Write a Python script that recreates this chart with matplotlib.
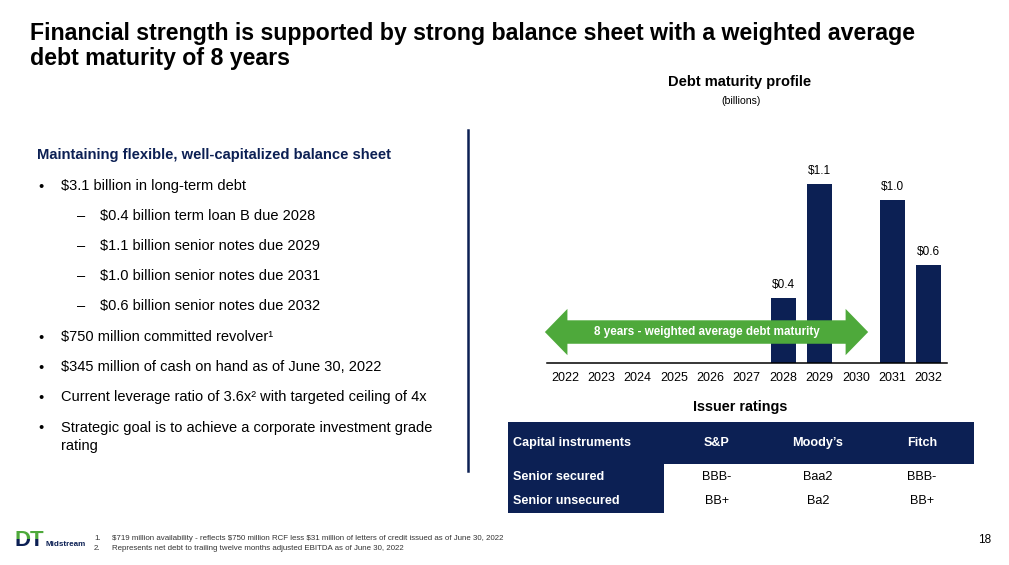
"""Debt maturity profile slide: bullets, bar chart with weighted-maturity arrow, ratings table."""

import matplotlib.pyplot as plt
from matplotlib.patches import Polygon, Rectangle

plt.rcParams["font.family"] = ["Liberation Sans", "DejaVu Sans"]
plt.rcParams["text.parse_math"] = False

NAVY = "#0C2054"
GREEN = "#4EA93B"
W, H = 1009, 565

# data
YEARS = list(range(2022, 2033))
MATURITY_YEARS = [2028, 2029, 2031, 2032]
MATURITY_VALUES = [0.4, 1.1, 1.0, 0.6]
MATURITY_LABELS = ["$0.4", "$1.1", "$1.0", "$0.6"]
ARROW_TEXT = "8 years - weighted average debt maturity"

TITLE = ("Financial strength is supported by strong balance sheet with a weighted average\n"
         "debt maturity of 8 years")
HEADING = "Maintaining flexible, well-capitalized balance sheet"
BULLETS = [
    (0, "$3.1 billion in long-term debt"),
    (1, "$0.4 billion term loan B due 2028"),
    (1, "$1.1 billion senior notes due 2029"),
    (1, "$1.0 billion senior notes due 2031"),
    (1, "$0.6 billion senior notes due 2032"),
    (0, "$750 million committed revolver\u00b9"),
    (0, "$345 million of cash on hand as of June 30, 2022"),
    (0, "Current leverage ratio of 3.6x\u00b2 with targeted ceiling of 4x"),
    (0, "Strategic goal is to achieve a corporate investment grade\nrating"),
]

RATING_COLUMNS = ["Capital instruments", "S&P", "Moody\u2019s", "Fitch"]
RATING_ROWS = ["Senior secured", "Senior unsecured"]
RATINGS = [["BBB-", "Baa2", "BBB-"], ["BB+", "Ba2", "BB+"]]

FOOTNOTES = [
    "$719 million availability - reflects $750 million RCF less $31 million of letters of credit issued as of June 30, 2022",
    "Represents net debt to trailing twelve months adjusted EBITDA as of June 30, 2022",
]


def fx(x):
    return x / W


def fy(y):
    return 1 - y / H


def ftext(x, y, s, **kw):
    kw.setdefault("va", "center")
    return fig.text(fx(x), fy(y), s, **kw)


fig = plt.figure(figsize=(W / 100, H / 100), dpi=100)

# title
ftext(30, 46, TITLE, fontsize=16.7, fontweight="bold", color="black", linespacing=1.12)

# left column
ftext(37, 155, HEADING, fontsize=10.6, fontweight="bold", color=NAVY)
y = 186
for level, text in BULLETS:
    if level == 0:
        ftext(38, y + 1, "\u2022", fontsize=10.5)
        if "\n" in text:
            ftext(61, y - 6, text, fontsize=10.5, va="top", linespacing=1.38)
        else:
            ftext(61, y, text, fontsize=10.5)
    else:
        ftext(77, y, "\u2013", fontsize=10.5)
        ftext(100, y, text, fontsize=10.5)
    y += 30.1

fig.add_artist(plt.Line2D([fx(468), fx(468)], [fy(130), fy(471)], color=NAVY, lw=1.8))

# chart
ftext(740, 82, "Debt maturity profile", fontsize=10.5, fontweight="bold", ha="center")
ftext(741, 101, "(billions)", fontsize=7.6, ha="center")

ax_l, ax_r, ax_b, ax_t = 546.7, 946.7, 363, 167.4
ax = fig.add_axes([fx(ax_l), fy(ax_b), fx(ax_r - ax_l), (ax_b - ax_t) / H])
ax.bar(MATURITY_YEARS, MATURITY_VALUES, width=0.69, color=NAVY, zorder=2)
for yr, val, lab in zip(MATURITY_YEARS, MATURITY_VALUES, MATURITY_LABELS):
    ax.annotate(lab, (yr, val), xytext=(0, 5), textcoords="offset points",
                ha="center", va="bottom", fontsize=8.5)
ax.set_xlim(2021.5, 2032.5)
ax.set_ylim(0, 1.2)
ax.set_xticks(YEARS)
ax.set_xticklabels([str(v) for v in YEARS], fontsize=9)
ax.tick_params(axis="x", length=0, pad=6.5)
ax.set_yticks([])
for side in ("top", "left", "right"):
    ax.spines[side].set_visible(False)
ax.spines["bottom"].set_linewidth(1.1)
ax.patch.set_visible(False)

# weighted maturity double arrow (data coords)
x0, x1, head = 2021.45, 2030.34, 0.62
yc, body, wing = 0.19, 0.072, 0.142
arrow = Polygon(
    [(x0, yc), (x0 + head, yc + wing), (x0 + head, yc + body), (x1 - head, yc + body),
     (x1 - head, yc + wing), (x1, yc), (x1 - head, yc - wing), (x1 - head, yc - body),
     (x0 + head, yc - body), (x0 + head, yc - wing)],
    closed=True, facecolor=GREEN, edgecolor="none", zorder=3, clip_on=False)
ax.add_patch(arrow)
ax.text((x0 + x1) / 2, yc, ARROW_TEXT, ha="center", va="center", color="white",
        fontsize=8.4, fontweight="bold", zorder=4)

# ratings table
ftext(740, 407, "Issuer ratings", fontsize=10.4, fontweight="bold", ha="center")
t_l, t_r, t_top, t_hdr, t_bot, t_c1 = 508, 974, 422, 464, 513, 664
fig.add_artist(Rectangle((fx(t_l), fy(t_hdr)), fx(t_r - t_l), (t_hdr - t_top) / H,
                         transform=fig.transFigure, facecolor=NAVY, edgecolor="none"))
fig.add_artist(Rectangle((fx(t_l), fy(t_bot)), fx(t_c1 - t_l), (t_bot - t_hdr) / H,
                         transform=fig.transFigure, facecolor=NAVY, edgecolor="none"))
col_x = [513, 717, 818, 922]
for i, name in enumerate(RATING_COLUMNS):
    ftext(col_x[i], 443, name, fontsize=9.1, fontweight="bold", color="white",
          ha="left" if i == 0 else "center")
row_y = [477, 501]
for r, name in enumerate(RATING_ROWS):
    ftext(513, row_y[r], name, fontsize=9.1, fontweight="bold", color="white")
    for c, val in enumerate(RATINGS[r]):
        ftext(col_x[c + 1], row_y[r], val, fontsize=9.1, ha="center")

# footnotes, logo, page number
for i, note in enumerate(FOOTNOTES):
    ftext(94, 538 + i * 11, f"{i + 1}.", fontsize=5.7, color="#333333")
    ftext(112, 538 + i * 11, note, fontsize=5.7, color="#333333")
ftext(978, 540, "18", fontsize=8.5)

split = fy(539)
logo_top = ftext(14, 541, "DT", fontsize=16, fontweight="bold", color=GREEN)
logo_top.set_clip_path(Rectangle((0, split), 1, 1, transform=fig.transFigure))
logo_bot = ftext(14, 541, "DT", fontsize=16, fontweight="bold", color=NAVY)
logo_bot.set_clip_path(Rectangle((0, split - 1), 1, 1, transform=fig.transFigure))
ftext(46, 544, "Midstream", fontsize=5.8, fontweight="bold", color=NAVY)

fig.savefig("out.png", dpi=100)
